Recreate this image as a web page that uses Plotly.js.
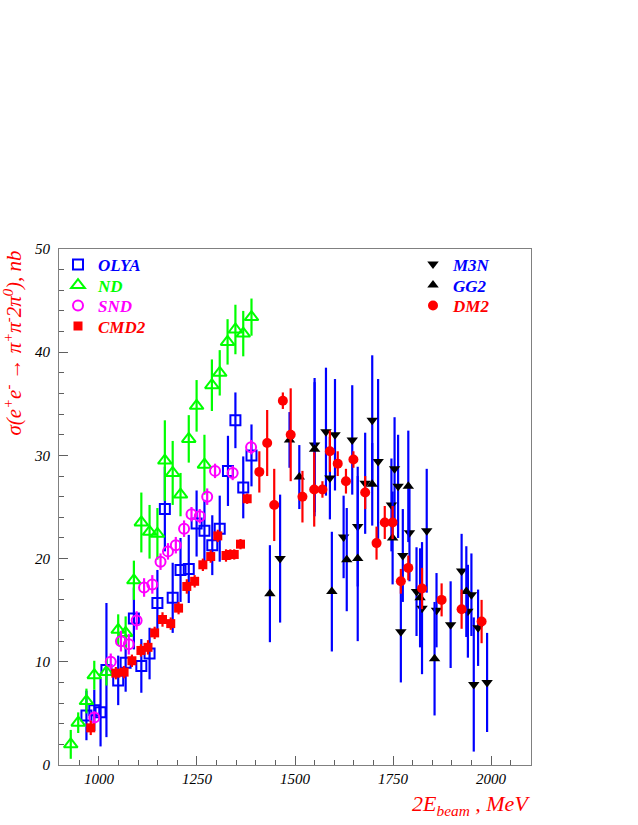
<!DOCTYPE html>
<html>
<head>
<meta charset="utf-8">
<script src="https://cdn.plot.ly/plotly-3.0.1.min.js"></script>
<style>html,body{margin:0;padding:0;background:#fff;}#chart{width:638px;height:825px;}</style>
</head>
<body>
<div id="chart"></div>
<script>
// ---- data (2E_beam in MeV, cross section in nb) ----
var olyaX = [968, 988, 1004, 1019, 1049, 1068, 1089, 1108, 1129, 1149, 1168, 1188, 1208, 1229, 1249, 1269, 1289, 1308, 1329, 1348, 1368, 1389];
var olyaY = [4.8, 5.3, 5.1, 9.2, 8.2, 9.9, 14.2, 9.6, 10.8, 15.7, 24.8, 16.2, 18.9, 19.0, 23.4, 22.7, 21.3, 22.9, 28.5, 33.4, 26.9, 30.0];
var olyaE = [2.4, 2.0, 3.3, 6.5, 2.4, 2.8, 3.0, 2.6, 2.5, 3.2, 4.1, 3.4, 3.1, 3.3, 3.2, 3.0, 2.9, 3.2, 3.4, 2.7, 3.0, 3.0];

var ndX = [928, 947, 968, 988, 1019, 1049, 1068, 1089, 1108, 1129, 1149, 1168, 1188, 1208, 1229, 1249, 1269, 1288, 1308, 1328, 1348, 1368, 1389];
var ndY = [2.0, 4.1, 6.2, 8.7, 9.0, 13.1, 12.8, 17.9, 23.5, 22.6, 22.4, 29.5, 28.3, 26.2, 31.6, 34.8, 29.1, 36.8, 38.0, 41.0, 42.2, 41.8, 43.4];
var ndE = [1.4, 1.0, 1.2, 1.4, 1.3, 1.5, 1.6, 1.9, 2.9, 2.6, 2.5, 3.9, 3.1, 2.1, 2.3, 2.5, 2.9, 2.5, 2.2, 2.2, 2.4, 2.2, 1.8];

var sndX = [988, 1030, 1056, 1076, 1096, 1115, 1136, 1157, 1176, 1196, 1217, 1236, 1257, 1276, 1296, 1341, 1388];
var sndY = [4.6, 10.0, 12.0, 11.7, 14.0, 17.2, 17.5, 19.7, 20.7, 21.3, 22.9, 24.3, 24.1, 26.0, 28.5, 28.3, 30.8];
var sndE = [0.6, 0.8, 1.0, 1.0, 0.9, 0.9, 0.9, 0.8, 0.8, 0.8, 0.8, 0.7, 0.7, 0.8, 0.7, 0.7, 0.7];

var cmd2X = [979, 1043, 1064, 1084, 1107, 1125, 1142, 1162, 1183, 1203, 1224, 1244, 1265, 1285, 1303, 1324, 1335, 1345, 1361, 1378];
var cmd2Y = [3.6, 8.9, 9.0, 10.1, 11.1, 11.4, 12.8, 14.1, 13.7, 15.2, 17.3, 17.8, 19.4, 20.2, 22.2, 20.3, 20.4, 20.4, 21.4, 25.8];
var cmd2E = [0.7, 0.6, 0.6, 0.6, 0.6, 0.7, 0.6, 0.7, 0.6, 0.6, 0.7, 0.6, 0.6, 0.6, 0.6, 0.6, 0.5, 0.5, 0.5, 0.5];

var m3nX = [1462, 1550, 1579, 1589, 1602, 1624, 1646, 1660, 1679, 1697, 1712, 1746, 1754, 1763, 1770, 1775, 1792, 1810, 1824, 1836, 1861, 1897, 1925, 1941, 1950, 1956, 1967, 1990];
var m3nY = [20.0, 31.0, 32.3, 27.8, 32.0, 22.1, 31.5, 23.1, 27.3, 33.4, 29.4, 25.2, 28.7, 27.0, 12.9, 20.3, 22.5, 16.8, 15.2, 22.7, 15.0, 13.6, 18.8, 14.9, 16.5, 7.8, 13.3, 8.0];
var m3nE = [6.2, 6.5, 6.2, 4.0, 5.4, 4.0, 5.3, 5.8, 4.9, 6.3, 8.0, 4.5, 5.0, 5.0, 4.9, 4.5, 4.7, 4.3, 6.4, 6.0, 3.6, 4.2, 3.6, 4.5, 4.0, 6.5, 3.7, 4.8];

var gg2X = [1436, 1486, 1511, 1550, 1594, 1632, 1660, 1697, 1749, 1789, 1819, 1856, 1937];
var gg2Y = [16.6, 31.5, 27.9, 30.6, 16.8, 19.9, 20.0, 27.2, 22.0, 27.0, 16.2, 10.3, 16.8];
var gg2E = [4.7, 2.7, 3.1, 6.5, 5.8, 5.0, 8.0, 4.0, 4.5, 5.4, 4.8, 5.5, 4.4];

var dm2X = [1409, 1429, 1447, 1469, 1489, 1519, 1549, 1570, 1589, 1609, 1630, 1649, 1679, 1708, 1729, 1749, 1770, 1789, 1824, 1874, 1925, 1976];
var dm2Y = [28.4, 31.2, 25.2, 35.3, 32.0, 26.0, 26.7, 26.7, 30.4, 29.2, 27.5, 29.6, 26.4, 21.5, 23.5, 23.5, 17.8, 19.1, 17.1, 16.0, 15.1, 13.9];
var dm2E = [2.0, 3.2, 3.5, 0.8, 4.5, 2.5, 3.6, 0.8, 2.0, 1.2, 1.2, 0.8, 1.6, 1.6, 1.6, 1.6, 1.2, 1.2, 2.0, 1.6, 1.9, 2.1];

var seriesNames = ['OLYA', 'ND', 'SND', 'CMD2', 'M3N', 'GG2', 'DM2'];
var xTicks = [1000, 1250, 1500, 1750, 2000];
var yTicks = [0, 10, 20, 30, 40, 50];

// ---- styling ----
var BLUE = '#0000ff', GREEN = '#00ff00', MAG = '#ff00ff', RED = '#ff0000', BLACK = '#000000';
var SERIF = 'Liberation Serif, Times New Roman, serif';
var W = 638, H = 825, L = 59, R = 107, T = 249, B = 60;
var PW = W - L - R, PH = H - T - B;
function px2x(p) { return (p - L) / PW; }
function px2y(p) { return (H - B - p) / PH; }

function tr(x, y, e, name, sym, size, mcol, ecol, lw, legend) {
  return {
    type: 'scatter', mode: 'markers', x: x, y: y, name: name,
    legend: legend,
    marker: { symbol: sym, size: size, color: mcol, line: { color: mcol, width: lw } },
    error_y: { type: 'data', array: e, visible: true, color: ecol, thickness: 2.2, width: 0 },
    cliponaxis: true, hoverinfo: 'x+y'
  };
}

var data = [
  tr(olyaX, olyaY, olyaE, seriesNames[0], 'square-open', 10, BLUE, BLUE, 2, 'legend'),
  tr(ndX, ndY, ndE, seriesNames[1], 'triangle-up-open', 12, GREEN, GREEN, 2, 'legend2'),
  tr(sndX, sndY, sndE, seriesNames[2], 'circle-open', 10, MAG, MAG, 2, 'legend3'),
  tr(cmd2X, cmd2Y, cmd2E, seriesNames[3], 'square', 9, RED, RED, 0, 'legend4'),
  tr(m3nX, m3nY, m3nE, seriesNames[4], 'triangle-down', 10, BLACK, BLUE, 0, 'legend5'),
  tr(gg2X, gg2Y, gg2E, seriesNames[5], 'triangle-up', 10, BLACK, BLUE, 0, 'legend6'),
  tr(dm2X, dm2Y, dm2E, seriesNames[6], 'circle', 10, RED, RED, 0, 'legend7')
];

function leg(xp, yp, col) {
  return {
    x: px2x(xp), y: px2y(yp), xanchor: 'left', yanchor: 'middle',
    bgcolor: 'rgba(0,0,0,0)', borderwidth: 0,
    font: { family: SERIF, size: 17, weight: 'bold', style: 'italic', color: col },
    tracegroupgap: 0, itemclick: false, itemdoubleclick: false
  };
}

var axisBase = {
  showgrid: false, zeroline: false, showline: true, mirror: true,
  linecolor: '#808080', linewidth: 1,
  ticks: 'inside', ticklen: 9, tickwidth: 1, tickcolor: '#606060',
  tickfont: { family: SERIF, size: 15, style: 'italic', color: '#000' }
};

var layout = {
  width: W, height: H,
  margin: { l: L, r: R, t: T, b: B, pad: 0 },
  paper_bgcolor: '#fff', plot_bgcolor: '#fff',
  showlegend: true,
  legend: leg(58, 265, BLUE),
  legend2: leg(58, 285.5, GREEN),
  legend3: leg(58, 306, MAG),
  legend4: leg(58, 326.5, RED),
  legend5: leg(413, 264.5, BLUE),
  legend6: leg(413, 285.5, BLUE),
  legend7: leg(413, 306, RED),
  xaxis: Object.assign({}, axisBase, {
    range: [898, 2102], tickmode: 'array', tickvals: xTicks, ticktext: xTicks.map(String),
    ticklabelstandoff: 0,
    minor: { dtick: 50, tick0: 0, ticks: 'inside', ticklen: 5, tickcolor: '#606060', showgrid: false }
  }),
  yaxis: Object.assign({}, axisBase, {
    range: [0, 50], tickmode: 'array', tickvals: yTicks, ticktext: yTicks.map(String),
    ticklabelstandoff: 5,
    minor: { dtick: 2, tick0: 0, ticks: 'inside', ticklen: 5, tickcolor: '#606060', showgrid: false }
  }),
  annotations: [
    {
      xref: 'paper', yref: 'paper', x: px2x(532), y: px2y(805), xanchor: 'right', yanchor: 'middle',
      text: '2E<sub>beam</sub> , MeV', showarrow: false,
      font: { family: SERIF, size: 22, style: 'italic', color: RED }
    },
    {
      xref: 'paper', yref: 'paper', x: px2x(13), y: 1.0, xanchor: 'center', yanchor: 'top',
      textangle: -90,
      text: 'σ(e<sup>+</sup>e<sup>-</sup> → π<sup>+</sup>π<sup>-</sup>2π<sup>0</sup>), nb', showarrow: false,
      font: { family: SERIF, size: 21, style: 'italic', color: RED }
    }
  ]
};

Plotly.newPlot('chart', data, layout, { staticPlot: true, displayModeBar: false });
</script>
</body>
</html>
